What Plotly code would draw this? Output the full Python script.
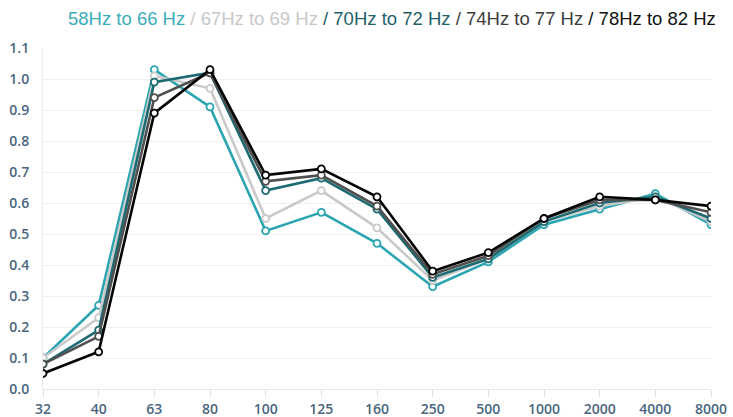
import plotly.graph_objects as go

categories = ["32", "40", "63", "80", "100", "125", "160", "250", "500", "1000", "2000", "4000", "8000"]
series_names = ["58Hz to 66 Hz", "67Hz to 69 Hz", "70Hz to 72 Hz", "74Hz to 77 Hz", "78Hz to 82 Hz"]
s1 = [0.10, 0.27, 1.03, 0.91, 0.51, 0.57, 0.47, 0.33, 0.41, 0.53, 0.58, 0.63, 0.53]
s2 = [0.10, 0.23, 1.01, 0.97, 0.55, 0.64, 0.52, 0.35, 0.42, 0.54, 0.59, 0.62, 0.54]
s3 = [0.08, 0.19, 0.99, 1.02, 0.64, 0.68, 0.58, 0.36, 0.42, 0.54, 0.60, 0.62, 0.55]
s4 = [0.08, 0.17, 0.94, 1.02, 0.67, 0.69, 0.59, 0.37, 0.43, 0.55, 0.61, 0.61, 0.57]
s5 = [0.05, 0.12, 0.89, 1.03, 0.69, 0.71, 0.62, 0.38, 0.44, 0.55, 0.62, 0.61, 0.59]
y_ticks = [0.0, 0.1, 0.2, 0.3, 0.4, 0.5, 0.6, 0.7, 0.8, 0.9, 1.0, 1.1]

colors = ["#2aa5b1", "#cacaca", "#1c6a72", "#4f4f4f", "#050505"]
title_colors = ["#3aacba", "#c8c8c8", "#1f5f69", "#3d3d3d", "#111111"]

fig = go.Figure()
for name, vals, c in zip(series_names, [s1, s2, s3, s4, s5], colors):
    fig.add_trace(go.Scatter(
        x=categories, y=vals, name=name, mode="lines+markers",
        line=dict(color=c, width=2.6),
        marker=dict(symbol="circle", size=7, color="white", line=dict(color=c, width=1.8)),
    ))

parts = []
for i, (name, c) in enumerate(zip(series_names, title_colors)):
    prefix = "" if i == 0 else " / "
    parts.append(f"<span style='color:{c}'>{prefix}{name}</span>")
title_text = "".join(parts)

# title centered at x~392px, y~18px
fig.add_annotation(
    text=title_text, xref="paper", yref="paper",
    x=(392 - 43) / 668, y=1.0, yshift=30,
    xanchor="center", yanchor="middle", showarrow=False,
    font=dict(family="Liberation Sans, Arial, sans-serif", size=18.5),
)

fig.update_layout(
    width=733, height=417,
    margin=dict(l=43, r=22, t=48, b=28),
    paper_bgcolor="white", plot_bgcolor="white",
    showlegend=False,
    font=dict(family="Open Sans, sans-serif", size=14, color="#4a6680"),
)
fig.update_xaxes(
    type="category", range=[0, 12], showgrid=False, automargin=False,
    showline=True, linecolor="#e6e6e6", linewidth=1,
    ticks="outside", ticklen=7, tickcolor="#e0e0e0",
    tickfont=dict(family="Open Sans, sans-serif", size=14, color="#4a6680", weight=600),
)
fig.update_yaxes(
    range=[0, 1.1], tickvals=y_ticks, ticktext=[f"{v:.1f}" for v in y_ticks],
    showgrid=True, gridcolor="#f0f0f0", gridwidth=1, automargin=False,
    zeroline=False, showline=True, linecolor="#ececec",
    ticks="", ticklabelstandoff=10,
    tickfont=dict(family="Open Sans, sans-serif", size=14, color="#4a6680", weight=600),
)

fig.write_html("out.html", config={"displayModeBar": False},
               post_script="document.body.style.margin='0px';")
